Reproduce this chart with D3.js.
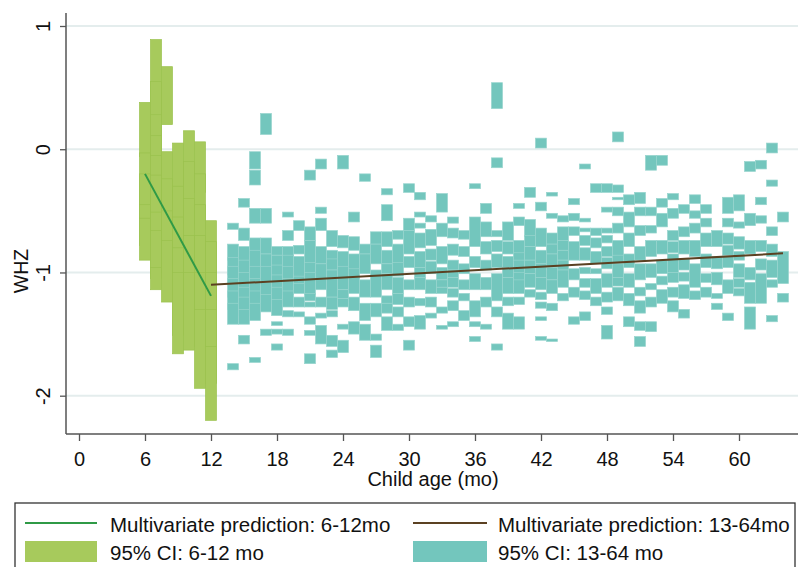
<!DOCTYPE html>
<html lang="en">
<head>
<meta charset="utf-8">
<style type="text/css">
  body { margin: 0; background: #fff; }
  text { font-family: "Liberation Sans", Arial, sans-serif; fill: #111; }
  .grid { stroke: #e4eded; stroke-width: 2px; }
  .axis-line { stroke: #555; stroke-width: 1.5px; }
</style>
</head>
<body>
<svg width="798" height="567"></svg>
<script src="https://cdn.jsdelivr.net/npm/d3@7"></script>
<script type="text/javascript">
// tick labels
var xTicks = [0, 6, 12, 18, 24, 30, 36, 42, 48, 54, 60];
var yTicks = [1, 0, -1, -2];

// prediction lines
var predAge6 = [6, 12], predWhz6 = [-0.2, -1.19];
var predAge13 = [12, 64], predWhz13 = [-1.10, -0.845];

// 95% CI bars, 6-12 mo (months, [upper, lower] per bar)
var greenMonths = [6, 7, 8, 9, 10, 11, 12];
var greenCI = [
  [[0.38,-0.06],[-0.03,-0.45],[-0.2,-0.56],[-0.45,-0.78],[-0.56,-0.9]],
  [[0.89,0.28],[0.55,0.11],[0.28,-0.05],[0.11,-0.21],[-0.05,-0.51],[-0.21,-0.66],[-0.51,-0.96],[-0.66,-1.05],[-0.96,-1.14]],
  [[0.67,0.2],[-0.02,-0.5],[-0.24,-0.74],[-0.5,-1.0],[-0.74,-1.24]],
  [[0.05,-0.4],[-0.3,-0.8],[-0.55,-1.0],[-0.8,-1.51],[-1.0,-1.66]],
  [[0.15,-0.3],[-0.1,-0.6],[-0.4,-0.95],[-0.7,-1.3],[-1.0,-1.63]],
  [[0.06,-0.35],[-0.2,-0.65],[-0.45,-0.95],[-0.7,-1.3],[-1.0,-1.6],[-1.3,-1.94]],
  [[-0.58,-1.0],[-0.75,-1.3],[-1.0,-1.6],[-1.3,-1.9],[-1.6,-2.2]]
];

// 95% CI bars, 13-64 mo
var tealMonths = d3.range(14, 65);
var tealCI = [
  [[-0.60,-0.65],[-0.77,-0.90],[-0.88,-1.02],[-0.95,-1.10],[-1.05,-1.20],[-1.15,-1.30],[-1.25,-1.42],[-1.74,-1.79]],
  [[-0.40,-0.47],[-0.64,-0.74],[-0.79,-0.95],[-0.9,-1.05],[-1.0,-1.15],[-1.12,-1.25],[-1.2,-1.35],[-1.3,-1.42],[-1.51,-1.58]],
  [[-0.02,-0.16],[-0.17,-0.29],[-0.48,-0.60],[-0.72,-0.85],[-0.82,-0.97],[-0.95,-1.08],[-1.05,-1.2],[-1.15,-1.3],[-1.25,-1.39],[-1.69,-1.73]],
  [[0.29,0.12],[-0.48,-0.60],[-0.72,-0.85],[-0.85,-0.98],[-0.95,-1.1],[-1.08,-1.22],[-1.18,-1.32],[-1.46,-1.51]],
  [[-0.79,-0.86],[-0.86,-0.95],[-0.94,-1.05],[-1.02,-1.15],[-1.12,-1.25],[-1.22,-1.35],[-1.40,-1.43],[-1.46,-1.50],[-1.58,-1.63]],
  [[-0.51,-0.55],[-0.66,-0.74],[-0.79,-0.88],[-0.86,-0.98],[-0.95,-1.08],[-1.05,-1.18],[-1.15,-1.28],[-1.31,-1.36],[-1.46,-1.51]],
  [[-0.58,-0.66],[-0.78,-0.85],[-0.87,-1.04],[-1.03,-1.1],[-1.09,-1.17],[-1.2,-1.28],[-1.32,-1.36]],
  [[-0.17,-0.25],[-0.63,-0.74],[-0.74,-0.93],[-0.92,-1.01],[-1.0,-1.18],[-1.17,-1.23],[-1.24,-1.28],[-1.36,-1.42],[-1.47,-1.51],[-1.66,-1.74]],
  [[-0.08,-0.16],[-0.47,-0.52],[-0.56,-0.66],[-0.79,-0.93],[-0.93,-1.14],[-1.2,-1.28],[-1.33,-1.37],[-1.43,-1.58]],
  [[-0.66,-0.79],[-0.82,-0.9],[-0.89,-0.98],[-0.98,-1.2],[-1.2,-1.3],[-1.31,-1.36],[-1.51,-1.60],[-1.63,-1.69]],
  [[-0.05,-0.16],[-0.7,-0.8],[-0.83,-0.96],[-0.95,-1.04],[-1.04,-1.14],[-1.14,-1.21],[-1.21,-1.28],[-1.42,-1.46],[-1.55,-1.65]],
  [[-0.51,-0.59],[-0.71,-0.82],[-0.85,-0.98],[-0.97,-1.05],[-1.04,-1.17],[-1.2,-1.31],[-1.40,-1.5]],
  [[-0.20,-0.26],[-0.77,-0.85],[-0.85,-1.01],[-1.06,-1.2],[-1.25,-1.39],[-1.42,-1.55]],
  [[-0.67,-0.77],[-0.77,-0.93],[-0.98,-1.2],[-1.25,-1.36],[-1.5,-1.55],[-1.59,-1.69]],
  [[-0.32,-0.37],[-0.45,-0.58],[-0.67,-0.79],[-0.82,-0.93],[-0.93,-1.01],[-1.01,-1.14],[-1.19,-1.25],[-1.25,-1.33],[-1.36,-1.47]],
  [[-0.66,-0.73],[-0.77,-0.93],[-0.92,-1.03],[-1.04,-1.17],[-1.17,-1.26],[-1.28,-1.36],[-1.42,-1.47]],
  [[-0.28,-0.35],[-0.56,-0.66],[-0.66,-0.85],[-0.87,-0.96],[-1.06,-1.14],[-1.2,-1.28],[-1.36,-1.44],[-1.55,-1.63]],
  [[-0.35,-0.41],[-0.51,-0.55],[-0.6,-0.64],[-0.68,-0.8],[-0.83,-0.96],[-0.96,-1.04],[-1.04,-1.14],[-1.21,-1.27],[-1.35,-1.46]],
  [[-0.54,-0.59],[-0.65,-0.78],[-0.81,-0.9],[-0.91,-1.01],[-1.06,-1.17],[-1.2,-1.28],[-1.33,-1.37]],
  [[-0.36,-0.51],[-0.6,-0.71],[-0.79,-0.93],[-0.96,-1.06],[-1.06,-1.12],[-1.12,-1.17],[-1.28,-1.33],[-1.43,-1.46]],
  [[-0.55,-0.6],[-0.64,-0.72],[-0.77,-0.86],[-0.9,-0.98],[-0.98,-1.04],[-1.04,-1.12],[-1.13,-1.2],[-1.23,-1.31],[-1.4,-1.44]],
  [[-0.66,-0.73],[-0.79,-0.87],[-0.93,-1.01],[-1.06,-1.14],[-1.17,-1.23],[-1.31,-1.39]],
  [[-0.28,-0.32],[-0.55,-0.79],[-0.87,-0.96],[-1.01,-1.14],[-1.23,-1.36],[-1.4,-1.44],[-1.52,-1.56]],
  [[-0.44,-0.52],[-0.59,-0.71],[-0.75,-0.85],[-0.9,-0.98],[-1.04,-1.14],[-1.2,-1.28],[-1.42,-1.46]],
  [[0.54,0.33],[-0.07,-0.15],[-0.66,-0.71],[-0.74,-0.83],[-0.85,-0.96],[-1.01,-1.23],[-1.28,-1.36],[-1.58,-1.63]],
  [[-0.59,-0.74],[-0.75,-0.85],[-0.87,-0.96],[-0.96,-1.04],[-1.04,-1.17],[-1.2,-1.27],[-1.33,-1.46]],
  [[-0.44,-0.48],[-0.55,-0.62],[-0.74,-0.85],[-0.84,-0.91],[-0.9,-1.01],[-1.0,-1.07],[-1.06,-1.17],[-1.2,-1.26],[-1.36,-1.46]],
  [[-0.31,-0.39],[-0.57,-0.71],[-0.7,-0.79],[-0.79,-0.9],[-0.9,-1.01],[-1.01,-1.12],[-1.14,-1.2]],
  [[0.09,0.01],[-0.43,-0.5],[-0.64,-0.79],[-0.82,-0.93],[-0.93,-1.04],[-1.04,-1.14],[-1.16,-1.22],[-1.24,-1.29],[-1.36,-1.39],[-1.52,-1.55]],
  [[-0.35,-0.38],[-0.52,-0.56],[-0.68,-0.77],[-0.77,-0.85],[-0.85,-0.96],[-0.96,-1.06],[-1.06,-1.17],[-1.25,-1.31],[-1.54,-1.56]],
  [[-0.54,-0.59],[-0.63,-0.74],[-0.74,-0.82],[-0.82,-0.9],[-0.9,-0.98],[-0.98,-1.12],[-1.17,-1.23]],
  [[-0.4,-0.45],[-0.52,-0.58],[-0.63,-0.7],[-0.75,-0.9],[-0.97,-1.06],[-1.12,-1.2],[-1.36,-1.42]],
  [[-0.12,-0.16],[-0.56,-0.59],[-0.64,-0.67],[-0.7,-0.78],[-0.8,-0.9],[-0.96,-1.01],[-1.05,-1.12],[-1.15,-1.22],[-1.32,-1.39]],
  [[-0.28,-0.35],[-0.64,-0.7],[-0.72,-0.8],[-0.83,-0.93],[-0.97,-1.01],[-1.05,-1.17],[-1.2,-1.27]],
  [[-0.28,-0.35],[-0.47,-0.51],[-0.64,-0.68],[-0.7,-0.76],[-0.79,-0.87],[-0.88,-0.97],[-1.01,-1.12],[-1.16,-1.24],[-1.28,-1.34],[-1.43,-1.54]],
  [[0.14,0.06],[-0.29,-0.35],[-0.39,-0.41],[-0.47,-0.54],[-0.6,-0.68],[-0.74,-0.87],[-0.86,-0.93],[-0.93,-1.04],[-1.04,-1.11],[-1.12,-1.23]],
  [[-0.37,-0.45],[-0.51,-0.63],[-0.68,-0.79],[-0.85,-0.96],[-1.01,-1.12],[-1.17,-1.27],[-1.36,-1.44]],
  [[-0.35,-0.44],[-0.47,-0.54],[-0.62,-0.7],[-0.79,-0.9],[-0.93,-1.06],[-1.12,-1.19],[-1.23,-1.33],[-1.4,-1.47],[-1.52,-1.6]],
  [[-0.05,-0.17],[-0.47,-0.54],[-0.62,-0.68],[-0.74,-0.87],[-0.93,-1.04],[-1.09,-1.14],[-1.2,-1.28],[-1.4,-1.48]],
  [[-0.05,-0.13],[-0.4,-0.47],[-0.52,-0.63],[-0.74,-0.85],[-0.9,-1.01],[-1.03,-1.1],[-1.14,-1.25]],
  [[-0.36,-0.41],[-0.48,-0.56],[-0.66,-0.74],[-0.75,-0.84],[-0.85,-1.0],[-1.0,-1.08],[-1.12,-1.2],[-1.23,-1.32]],
  [[-0.45,-0.52],[-0.63,-0.71],[-0.74,-0.85],[-0.89,-0.98],[-1.0,-1.07],[-1.1,-1.21],[-1.3,-1.37]],
  [[-0.37,-0.44],[-0.5,-0.56],[-0.6,-0.68],[-0.74,-0.87],[-0.93,-1.12],[-1.15,-1.22]],
  [[-0.45,-0.52],[-0.56,-0.63],[-0.68,-0.79],[-0.85,-0.96],[-1.01,-1.08],[-1.12,-1.2]],
  [[-0.66,-0.79],[-0.87,-0.97],[-1.0,-1.1],[-1.17,-1.21],[-1.25,-1.3]],
  [[-0.39,-0.52],[-0.56,-0.63],[-0.68,-0.77],[-0.78,-0.86],[-0.87,-0.96],[-1.06,-1.17],[-1.33,-1.39]],
  [[-0.37,-0.5],[-0.59,-0.64],[-0.71,-0.81],[-0.83,-0.9],[-0.93,-1.04],[-1.05,-1.12],[-1.13,-1.19]],
  [[-0.1,-0.18],[-0.52,-0.62],[-0.74,-0.85],[-0.96,-1.06],[-1.08,-1.25],[-1.28,-1.46]],
  [[-0.09,-0.16],[-0.39,-0.45],[-0.54,-0.6],[-0.74,-0.83],[-0.89,-0.98],[-1.01,-1.25]],
  [[0.05,-0.03],[-0.25,-0.3],[-0.63,-0.7],[-0.77,-0.87],[-0.9,-1.04],[-1.06,-1.12],[-1.35,-1.4]],
  [[-0.51,-0.59],[-0.83,-1.09],[-1.17,-1.24]]
];

var legendLabels = ["Multivariate prediction: 6-12mo", "Multivariate prediction: 13-64mo",
                    "95% CI: 6-12 mo", "95% CI: 13-64 mo"];

var green = "#a7ca5c", greenEdge = "#9bc24e",
    teal = "#73c6bd", tealEdge = "#97d5ce",
    greenLine = "#2f9a46", brownLine = "#5b4122";

var svg = d3.select("svg");

var x = d3.scaleLinear().domain([-13 / 11, 719 / 11]).range([66, 798]);
var y = d3.scaleLinear().domain([1, -2]).range([26, 395.7]);
var plotTop = 13, plotBottom = 434;

// gridlines
svg.selectAll(".grid").data(yTicks).enter().append("line")
  .attr("class", "grid")
  .attr("x1", 66).attr("x2", 798)
  .attr("y1", function(d){ return y(d) }).attr("y2", function(d){ return y(d) });

function drawBars(months, ci, fill, edge) {
  var rows = [];
  months.forEach(function(m, i){
    ci[i].forEach(function(r){ rows.push({m: m, hi: r[0], lo: r[1]}) });
  });
  svg.append("g").selectAll("rect").data(rows).enter().append("rect")
    .attr("x", function(d){ return x(d.m - 0.5) })
    .attr("width", function(d){ return x(d.m + 0.5) - x(d.m - 0.5) })
    .attr("y", function(d){ return y(d.hi) })
    .attr("height", function(d){ return y(d.lo) - y(d.hi) })
    .attr("fill", fill)
    .attr("stroke", edge)
    .attr("stroke-width", 0.7);
}
drawBars(greenMonths, greenCI, green, greenEdge);
drawBars(tealMonths, tealCI, teal, tealEdge);

var line = d3.line().x(function(d){ return x(d[0]) }).y(function(d){ return y(d[1]) });
svg.append("path").datum(d3.zip(predAge6, predWhz6)).attr("d", line)
  .attr("fill", "none").attr("stroke", greenLine).attr("stroke-width", 2);
svg.append("path").datum(d3.zip(predAge13, predWhz13)).attr("d", line)
  .attr("fill", "none").attr("stroke", brownLine).attr("stroke-width", 2);

// axes
var xAxis = svg.append("g").attr("transform", "translate(0," + plotBottom + ")")
  .call(d3.axisBottom(x).tickValues(xTicks).tickSize(7).tickPadding(11));
var yAxis = svg.append("g").attr("transform", "translate(66,0)")
  .call(d3.axisLeft(y).tickValues(yTicks).tickSize(6).tickFormat(function(d){ return d }));
[xAxis, yAxis].forEach(function(a){
  a.select(".domain").remove();
  a.selectAll(".tick line").attr("stroke", "#555").attr("stroke-width", 1.3);
  a.selectAll("text").style("font-family", "Liberation Sans, Arial, sans-serif")
    .style("font-size", "20px").attr("fill", "#111");
});
// stata style vertical y labels
yAxis.selectAll(".tick text")
  .attr("x", 0).attr("dy", 0).attr("text-anchor", "middle")
  .attr("transform", "translate(-16.5,0) rotate(-90)");

svg.append("line").attr("class", "axis-line")
  .attr("x1", 66).attr("x2", 66).attr("y1", plotTop).attr("y2", plotBottom);
svg.append("line").attr("class", "axis-line")
  .attr("x1", 66).attr("x2", 798).attr("y1", plotBottom).attr("y2", plotBottom);

svg.append("text").attr("x", 433).attr("y", 486).attr("text-anchor", "middle")
  .style("font-size", "20px").text("Child age (mo)");
svg.append("text").attr("transform", "translate(28,271) rotate(-90)")
  .attr("text-anchor", "middle").style("font-size", "19.5px").text("WHZ");

// legend
var leg = svg.append("g");
leg.append("rect").attr("x", 15).attr("y", 503).attr("width", 780).attr("height", 80)
  .attr("fill", "#fff").attr("stroke", "#333").attr("stroke-width", 1.3);
var cols = [25, 413];
leg.append("line").attr("x1", cols[0]).attr("x2", cols[0] + 72).attr("y1", 523).attr("y2", 523)
  .attr("stroke", greenLine).attr("stroke-width", 2);
leg.append("line").attr("x1", cols[1]).attr("x2", cols[1] + 74).attr("y1", 523).attr("y2", 523)
  .attr("stroke", brownLine).attr("stroke-width", 2);
leg.append("rect").attr("x", cols[0]).attr("y", 541).attr("width", 72).attr("height", 21).attr("fill", green);
leg.append("rect").attr("x", cols[1]).attr("y", 541).attr("width", 74).attr("height", 21).attr("fill", teal);
var lx = [110, 498, 110, 498], ly = [531.5, 531.5, 560, 560];
leg.selectAll("text.lab").data(legendLabels).enter().append("text")
  .attr("class", "lab")
  .attr("x", function(d, i){ return lx[i] }).attr("y", function(d, i){ return ly[i] })
  .style("font-size", "20.5px").text(function(d){ return d });
</script>
</body>
</html>
